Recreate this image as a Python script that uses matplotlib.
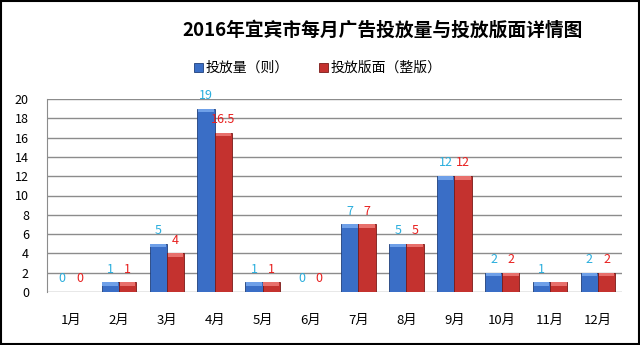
import matplotlib
matplotlib.use('Agg')
import matplotlib.pyplot as plt
import numpy as np

plt.rcParams['font.family'] = ['Noto Sans CJK SC', 'DejaVu Sans']

meses = ['1月', '2月', '3月', '4月', '5月', '6月', '7月', '8月', '9月', '10月', '11月', '12月']
quantidade = [0, 1, 5, 19, 1, 0, 7, 5, 12, 2, 1, 2]
versao = [0, 1, 4, 16.5, 1, 0, 7, 5, 12, 2, 1, 2]
rot_qtd = ['0', '1', '5', '19', '1', '0', '7', '5', '12', '2', '1', '2']
rot_ver = ['0', '1', '4', '16.5', '1', '0', '7', '5', '12', '2', '', '2']

fig = plt.figure(figsize=(6.4, 3.45), dpi=100)
ax = fig.add_axes([47 / 640, 1 - 292 / 345, 575 / 640, 193 / 345])

x = np.arange(len(meses))
w = 0.36
b1 = ax.bar(x - w / 2, quantidade, w, color='#3A6EC6', edgecolor='#1F3F7A', linewidth=0.6, zorder=3)
b2 = ax.bar(x + w / 2, versao, w, color='#C4322F', edgecolor='#7A1A18', linewidth=0.6, zorder=3)

# tampa mais clara imitando o efeito 3D do Excel
ax.bar(x - w / 2, [0.35 if v > 0 else 0 for v in quantidade], w * 0.9,
       bottom=[v - 0.35 for v in quantidade], color='#6FA0E8', linewidth=0, zorder=3.5)
ax.bar(x + w / 2, [0.35 if v > 0 else 0 for v in versao], w * 0.9,
       bottom=[v - 0.35 for v in versao], color='#E8706C', linewidth=0, zorder=3.5)

for i in range(len(meses)):
    ax.text(x[i] - w / 2, quantidade[i] + 0.7, rot_qtd[i], color='#2AAEDD',
            ha='center', va='bottom', fontsize=9, zorder=4)
    ax.text(x[i] + w / 2, versao[i] + 0.7, rot_ver[i], color='#E8201F',
            ha='center', va='bottom', fontsize=9, zorder=4)

ax.set_xlim(-0.5, len(meses) - 0.5)
ax.set_ylim(0, 20)
ax.set_yticks(range(0, 21, 2))
ax.set_xticks(x)
ax.set_xticklabels(meses, fontsize=9.5)
ax.tick_params(axis='x', length=0, pad=16)
ax.tick_params(axis='y', length=0, labelsize=9, pad=13)
ax.yaxis.grid(True, color='#8C8C8C', linewidth=1, zorder=0)
for s in ['top', 'right', 'bottom']:
    ax.spines[s].set_visible(False)
ax.spines['left'].set_color('#8C8C8C')

fig.text(383 / 640, 1 - 30 / 345, '2016年宜宾市每月广告投放量与投放版面详情图',
         ha='center', va='center', fontsize=13.5, fontweight='bold')
fig.legend([b1, b2], ['投放量（则）', '投放版面（整版）'], loc='center',
           bbox_to_anchor=(318 / 640, 1 - 68 / 345), ncol=2, frameon=False,
           fontsize=10, handlelength=0.6, handleheight=0.6, handletextpad=0.2,
           columnspacing=2.2)

fig.patches.append(plt.Rectangle((0.002, 0.003), 0.996, 0.994, transform=fig.transFigure,
                                 fill=False, edgecolor='black', linewidth=1.5))

fig.savefig('out.png', dpi=100)
